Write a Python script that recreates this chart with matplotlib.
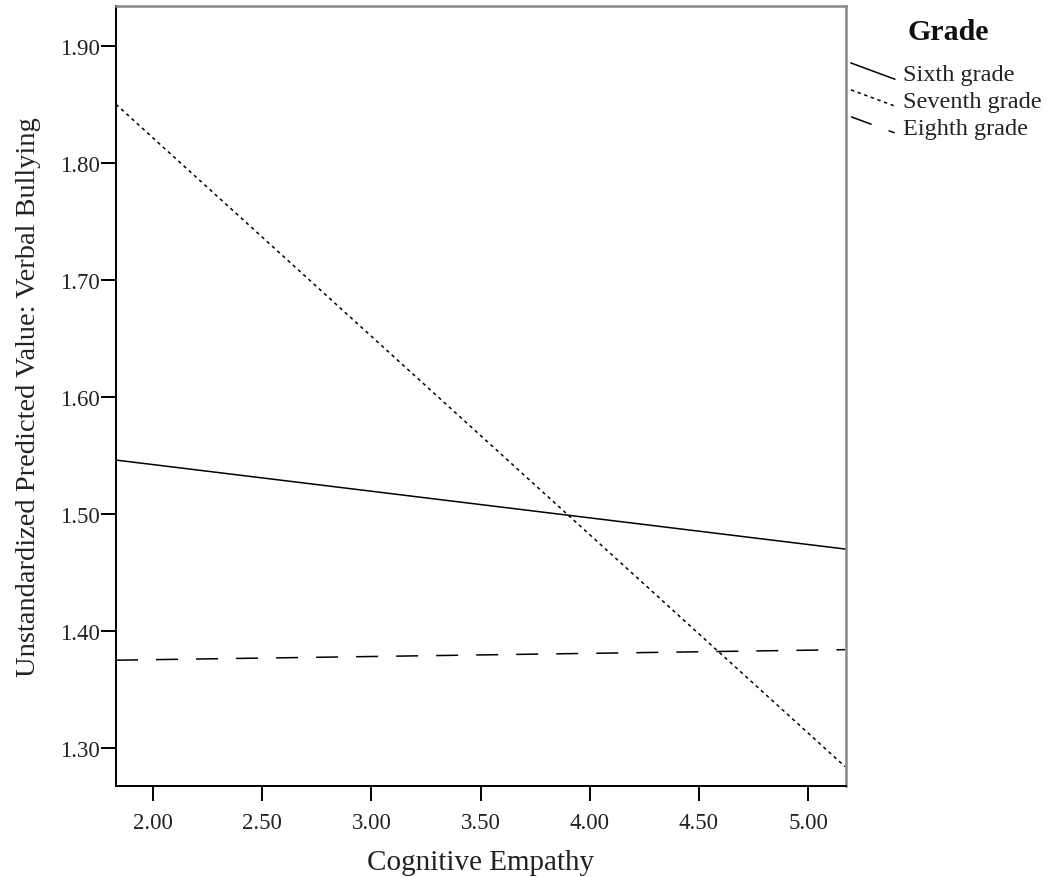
import numpy as np
import matplotlib.pyplot as plt
from matplotlib.legend_handler import HandlerLine2D

plt.rcParams['font.family'] = ['Liberation Serif', 'DejaVu Serif']

# predicted values at the ends of the empathy range
empathy = [1.83, 5.17]
sixth = [1.546, 1.470]
seventh = [1.850, 1.284]
eighth = [1.375, 1.384]

grades = ['Sixth grade', 'Seventh grade', 'Eighth grade']
styles = ['-', (0, (2.2, 2.4)), (0, (14.4, 11.8))]
xticks = [2.0, 2.5, 3.0, 3.5, 4.0, 4.5, 5.0]
yticks = [1.3, 1.4, 1.5, 1.6, 1.7, 1.8, 1.9]


class SlantHandler(HandlerLine2D):
    # SPSS draws the legend swatches as short slanted strokes
    def create_artists(self, legend, orig_handle, xdescent, ydescent,
                       width, height, fontsize, trans):
        arts = super().create_artists(legend, orig_handle, xdescent, ydescent,
                                      width, height, fontsize, trans)
        line = arts[0]
        n = len(line.get_xdata())
        line.set_ydata(np.linspace(height * 1.0, height * 0.05, n))
        return arts


fig = plt.figure(figsize=(10.47, 8.78), dpi=100)
ax = fig.add_axes([116 / 1047, 91 / 878, 730 / 1047, 780 / 878])

handles = []
for ys, name, ls in zip([sixth, seventh, eighth], grades, styles):
    h, = ax.plot(empathy, ys, color='black', lw=1.1, linestyle=ls, label=name)
    handles.append(h)

ax.set_xlim(1.83, 5.174)
ax.set_ylim(1.2675, 1.934)
ax.set_xticks(xticks)
ax.set_yticks(yticks)
ax.set_xticklabels([f'{v:.2f}' for v in xticks])
ax.set_yticklabels([f'{v:.2f}' for v in yticks])
ax.tick_params(direction='out', length=10.5, width=1.4, labelsize=16.5,
               labelcolor='#222222')
ax.tick_params(axis='x', pad=8)
ax.tick_params(axis='y', pad=1)

for s in ['left', 'bottom']:
    ax.spines[s].set_color('black')
    ax.spines[s].set_linewidth(1.4)
for s in ['top', 'right']:
    ax.spines[s].set_color('#888888')
    ax.spines[s].set_linewidth(1.8)

ax.set_xlabel('Cognitive Empathy', fontsize=21, labelpad=12, color='#222222')
ax.set_ylabel('Unstandardized Predicted Value: Verbal Bullying', fontsize=20.5,
              labelpad=14, color='#222222')

leg = fig.legend(handles=handles, loc='upper left',
                 bbox_to_anchor=(851 / 1047, 1 - 64 / 878), frameon=False,
                 fontsize=17.5, handlelength=1.8, handleheight=0.7,
                 handletextpad=0.33, labelspacing=0.2, borderaxespad=0,
                 borderpad=0, labelcolor='#222222',
                 handler_map={h: SlantHandler() for h in handles})
fig.text(948 / 1047, 1 - 33 / 878, 'Grade', ha='center', va='center',
         fontsize=21.5, fontweight='bold', color='#111111')

fig.savefig('out.png', dpi=100)
